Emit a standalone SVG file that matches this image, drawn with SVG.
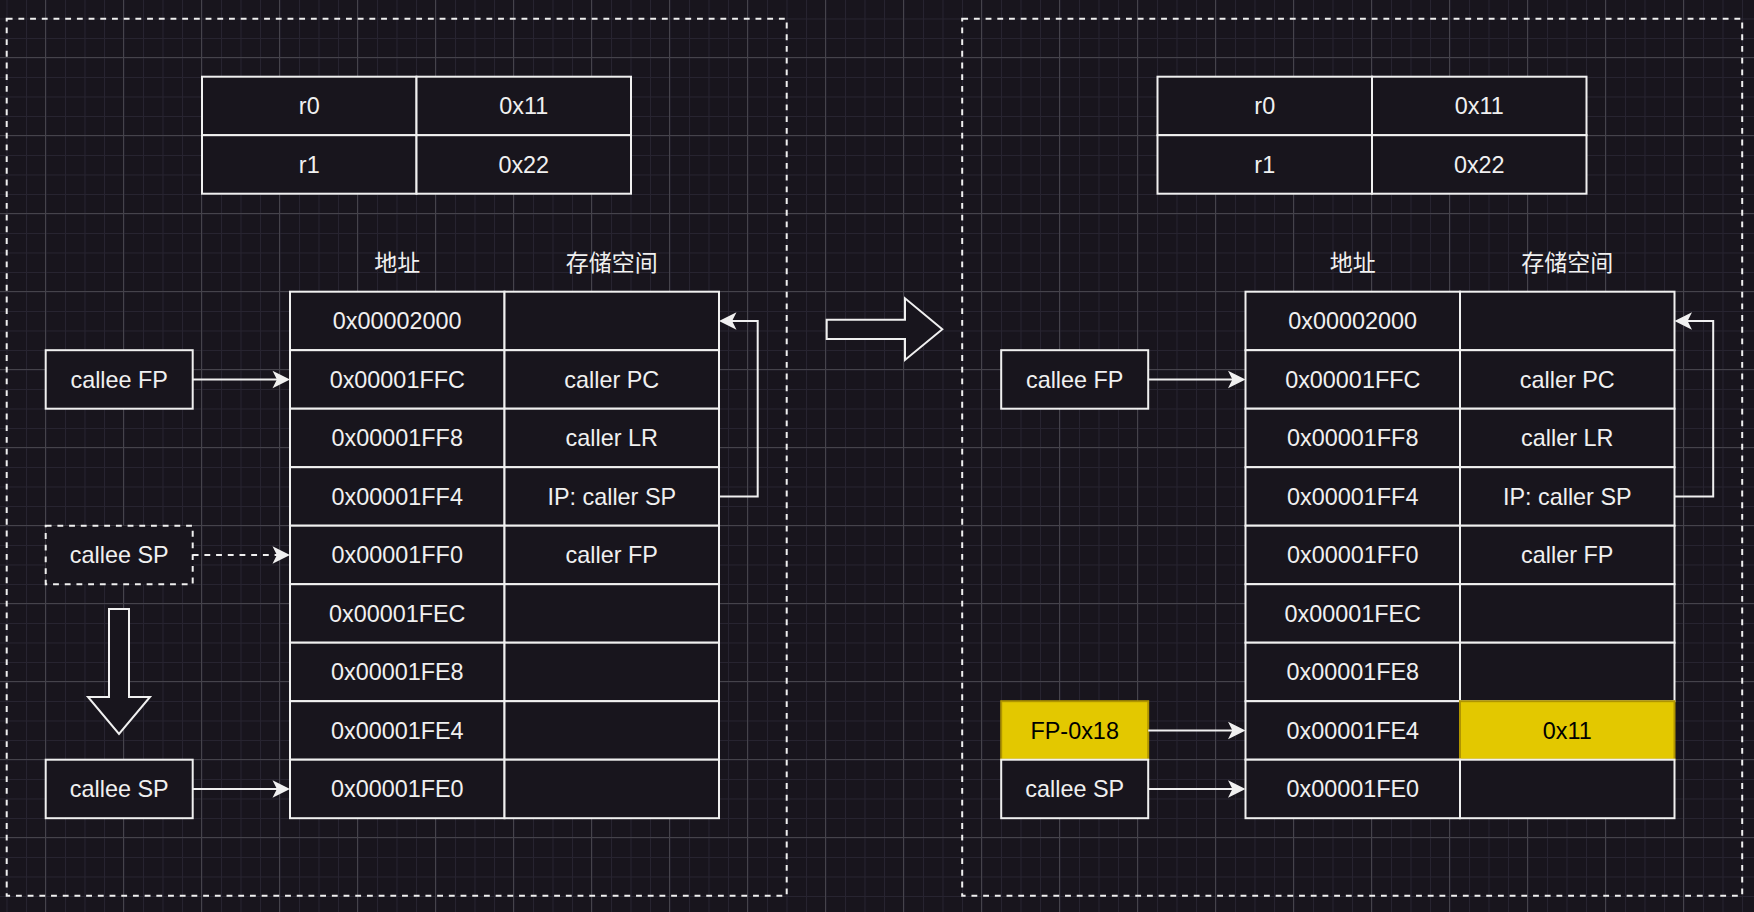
<svg xmlns="http://www.w3.org/2000/svg" width="1754" height="912" viewBox="0 0 1754 912">
<defs>
<style>
.bg{fill:#18151d}
.c{fill:#18151d;stroke:#f0f0f0;stroke-width:2}
.y{fill:#e3c800;stroke:#b09500;stroke-width:2}
.d{fill:#18151d;stroke:#f0f0f0;stroke-width:2;stroke-dasharray:5.85 5.85}
.frame{fill:none;stroke:#f0f0f0;stroke-width:2;stroke-dasharray:5.85 5.85}
.t{font-family:"Liberation Sans",Arial,"Noto Sans CJK SC",sans-serif;font-size:23.4px;fill:#f0f0f0;text-anchor:middle}
.tk{font-family:"Liberation Sans",Arial,sans-serif;font-size:23.4px;fill:#000000;text-anchor:middle}
.h{font-family:"Noto Sans CJK SC","Liberation Sans",sans-serif;font-size:23px;fill:#f0f0f0;text-anchor:middle}
.ln{fill:none;stroke:#f0f0f0;stroke-width:2;marker-end:url(#ah)}
.dl{fill:none;stroke:#f0f0f0;stroke-width:2;stroke-dasharray:5.85 5.85;marker-end:url(#ah)}
.blk{fill:#18151d;stroke:#f0f0f0;stroke-width:2}
</style>
<marker id="ah" markerUnits="userSpaceOnUse" markerWidth="20" markerHeight="20" refX="13.5" refY="8.75" orient="auto" overflow="visible">
<path d="M17.5,8.75 L0,0 L4.4,8.75 L0,17.5 Z" fill="#f0f0f0"/>
</marker>
<pattern id="minor" width="19.5" height="19.5" patternUnits="userSpaceOnUse" x="6.5" y="18.5">
<path d="M0.5,0 V19.5 M0,0.5 H19.5" stroke="#272430" stroke-width="1" fill="none"/>
</pattern>
<pattern id="major" width="78" height="78" patternUnits="userSpaceOnUse" x="45" y="57">
<path d="M0.5,0 V78 M0,0.5 H78" stroke="#45434b" stroke-width="1" fill="none"/>
</pattern>
</defs>
<rect class="bg" x="0" y="0" width="1754" height="912"/>
<rect x="0" y="0" width="1754" height="912" fill="url(#minor)"/>
<rect x="0" y="0" width="1754" height="912" fill="url(#major)"/>

<g id="frame-left"><rect class="frame" x="6.7" y="18.7" width="780" height="877"/></g>
<g id="frame-right"><rect class="frame" x="962.2" y="18.7" width="780" height="877"/></g>

<!-- LEFT PANEL -->
<g id="reg-left">
<rect class="c" x="202" y="76.7" width="214.5" height="58.5"/><text class="t" x="309.25" y="114">r0</text>
<rect class="c" x="416.5" y="76.7" width="214.5" height="58.5"/><text class="t" x="523.75" y="114">0x11</text>
<rect class="c" x="202" y="135.2" width="214.5" height="58.5"/><text class="t" x="309.25" y="172.5">r1</text>
<rect class="c" x="416.5" y="135.2" width="214.5" height="58.5"/><text class="t" x="523.75" y="172.5">0x22</text>
</g>
<g id="hdr-left">
<text class="h" x="397.25" y="270.5">地址</text>
<text class="h" x="611.75" y="270.5">存储空间</text>
</g>
<g id="mem-left">
<rect class="c" x="290" y="291.7" width="214.5" height="58.5"/><text class="t" x="397.25" y="329">0x00002000</text>
<rect class="c" x="504.5" y="291.7" width="214.5" height="58.5"/>
<rect class="c" x="290" y="350.2" width="214.5" height="58.5"/><text class="t" x="397.25" y="387.5">0x00001FFC</text>
<rect class="c" x="504.5" y="350.2" width="214.5" height="58.5"/><text class="t" x="611.75" y="387.5">caller PC</text>
<rect class="c" x="290" y="408.7" width="214.5" height="58.5"/><text class="t" x="397.25" y="446">0x00001FF8</text>
<rect class="c" x="504.5" y="408.7" width="214.5" height="58.5"/><text class="t" x="611.75" y="446">caller LR</text>
<rect class="c" x="290" y="467.2" width="214.5" height="58.5"/><text class="t" x="397.25" y="504.5">0x00001FF4</text>
<rect class="c" x="504.5" y="467.2" width="214.5" height="58.5"/><text class="t" x="611.75" y="504.5">IP: caller SP</text>
<rect class="c" x="290" y="525.7" width="214.5" height="58.5"/><text class="t" x="397.25" y="563">0x00001FF0</text>
<rect class="c" x="504.5" y="525.7" width="214.5" height="58.5"/><text class="t" x="611.75" y="563">caller FP</text>
<rect class="c" x="290" y="584.2" width="214.5" height="58.5"/><text class="t" x="397.25" y="621.5">0x00001FEC</text>
<rect class="c" x="504.5" y="584.2" width="214.5" height="58.5"/>
<rect class="c" x="290" y="642.7" width="214.5" height="58.5"/><text class="t" x="397.25" y="680">0x00001FE8</text>
<rect class="c" x="504.5" y="642.7" width="214.5" height="58.5"/>
<rect class="c" x="290" y="701.2" width="214.5" height="58.5"/><text class="t" x="397.25" y="738.5">0x00001FE4</text>
<rect class="c" x="504.5" y="701.2" width="214.5" height="58.5"/>
<rect class="c" x="290" y="759.7" width="214.5" height="58.5"/><text class="t" x="397.25" y="797">0x00001FE0</text>
<rect class="c" x="504.5" y="759.7" width="214.5" height="58.5"/>
</g>
<g id="fp-left"><rect class="c" x="45.7" y="350.2" width="147" height="58.5"/><text class="t" x="119.2" y="387.5">callee FP</text></g>
<g id="sp-old-left"><rect class="d" x="45.7" y="525.7" width="147" height="58.5"/><text class="t" x="119.2" y="563">callee SP</text></g>
<g id="sp-left"><rect class="c" x="45.7" y="759.7" width="147" height="58.5"/><text class="t" x="119.2" y="797">callee SP</text></g>
<g id="down-arrow"><polygon class="blk" points="109,609 129,609 129,697 150,697 119,734 88,697 109,697"/></g>

<!-- BIG ARROW -->
<g id="right-arrow"><polygon class="blk" points="826.7,319.7 905,319.7 905,298.3 942.3,329.3 905,360 905,339 826.7,339"/></g>

<!-- RIGHT PANEL -->
<g id="reg-right">
<rect class="c" x="1157.5" y="76.7" width="214.5" height="58.5"/><text class="t" x="1264.75" y="114">r0</text>
<rect class="c" x="1372" y="76.7" width="214.5" height="58.5"/><text class="t" x="1479.25" y="114">0x11</text>
<rect class="c" x="1157.5" y="135.2" width="214.5" height="58.5"/><text class="t" x="1264.75" y="172.5">r1</text>
<rect class="c" x="1372" y="135.2" width="214.5" height="58.5"/><text class="t" x="1479.25" y="172.5">0x22</text>
</g>
<g id="hdr-right">
<text class="h" x="1352.75" y="270.5">地址</text>
<text class="h" x="1567.25" y="270.5">存储空间</text>
</g>
<g id="mem-right">
<rect class="c" x="1245.5" y="291.7" width="214.5" height="58.5"/><text class="t" x="1352.75" y="329">0x00002000</text>
<rect class="c" x="1460" y="291.7" width="214.5" height="58.5"/>
<rect class="c" x="1245.5" y="350.2" width="214.5" height="58.5"/><text class="t" x="1352.75" y="387.5">0x00001FFC</text>
<rect class="c" x="1460" y="350.2" width="214.5" height="58.5"/><text class="t" x="1567.25" y="387.5">caller PC</text>
<rect class="c" x="1245.5" y="408.7" width="214.5" height="58.5"/><text class="t" x="1352.75" y="446">0x00001FF8</text>
<rect class="c" x="1460" y="408.7" width="214.5" height="58.5"/><text class="t" x="1567.25" y="446">caller LR</text>
<rect class="c" x="1245.5" y="467.2" width="214.5" height="58.5"/><text class="t" x="1352.75" y="504.5">0x00001FF4</text>
<rect class="c" x="1460" y="467.2" width="214.5" height="58.5"/><text class="t" x="1567.25" y="504.5">IP: caller SP</text>
<rect class="c" x="1245.5" y="525.7" width="214.5" height="58.5"/><text class="t" x="1352.75" y="563">0x00001FF0</text>
<rect class="c" x="1460" y="525.7" width="214.5" height="58.5"/><text class="t" x="1567.25" y="563">caller FP</text>
<rect class="c" x="1245.5" y="584.2" width="214.5" height="58.5"/><text class="t" x="1352.75" y="621.5">0x00001FEC</text>
<rect class="c" x="1460" y="584.2" width="214.5" height="58.5"/>
<rect class="c" x="1245.5" y="642.7" width="214.5" height="58.5"/><text class="t" x="1352.75" y="680">0x00001FE8</text>
<rect class="c" x="1460" y="642.7" width="214.5" height="58.5"/>
<rect class="c" x="1245.5" y="701.2" width="214.5" height="58.5"/><text class="t" x="1352.75" y="738.5">0x00001FE4</text>
<rect class="y" x="1460" y="701.2" width="214.5" height="58.5"/><text class="tk" x="1567.25" y="738.5">0x11</text>
<rect class="c" x="1245.5" y="759.7" width="214.5" height="58.5"/><text class="t" x="1352.75" y="797">0x00001FE0</text>
<rect class="c" x="1460" y="759.7" width="214.5" height="58.5"/>
</g>
<g id="fp-right"><rect class="c" x="1001.2" y="350.2" width="147" height="58.5"/><text class="t" x="1074.7" y="387.5">callee FP</text></g>
<g id="fp-off-right"><rect class="y" x="1001.2" y="701.2" width="147" height="58.5"/><text class="tk" x="1074.7" y="738.5">FP-0x18</text></g>
<g id="sp-right"><rect class="c" x="1001.2" y="759.7" width="147" height="58.5"/><text class="t" x="1074.7" y="797">callee SP</text></g>

<g id="connectors">
<path class="ln" d="M192.7,379.45 H286"/>
<path class="dl" d="M192.7,554.95 H286"/>
<path class="ln" d="M192.7,788.95 H286"/>
<path class="ln" d="M719,496.45 H757.7 V320.95 H723"/>
<path class="ln" d="M1148.2,379.45 H1241.5"/>
<path class="ln" d="M1148.2,730.45 H1241.5"/>
<path class="ln" d="M1148.2,788.95 H1241.5"/>
<path class="ln" d="M1674.5,496.45 H1713.2 V320.95 H1678.5"/>
</g>
</svg>
